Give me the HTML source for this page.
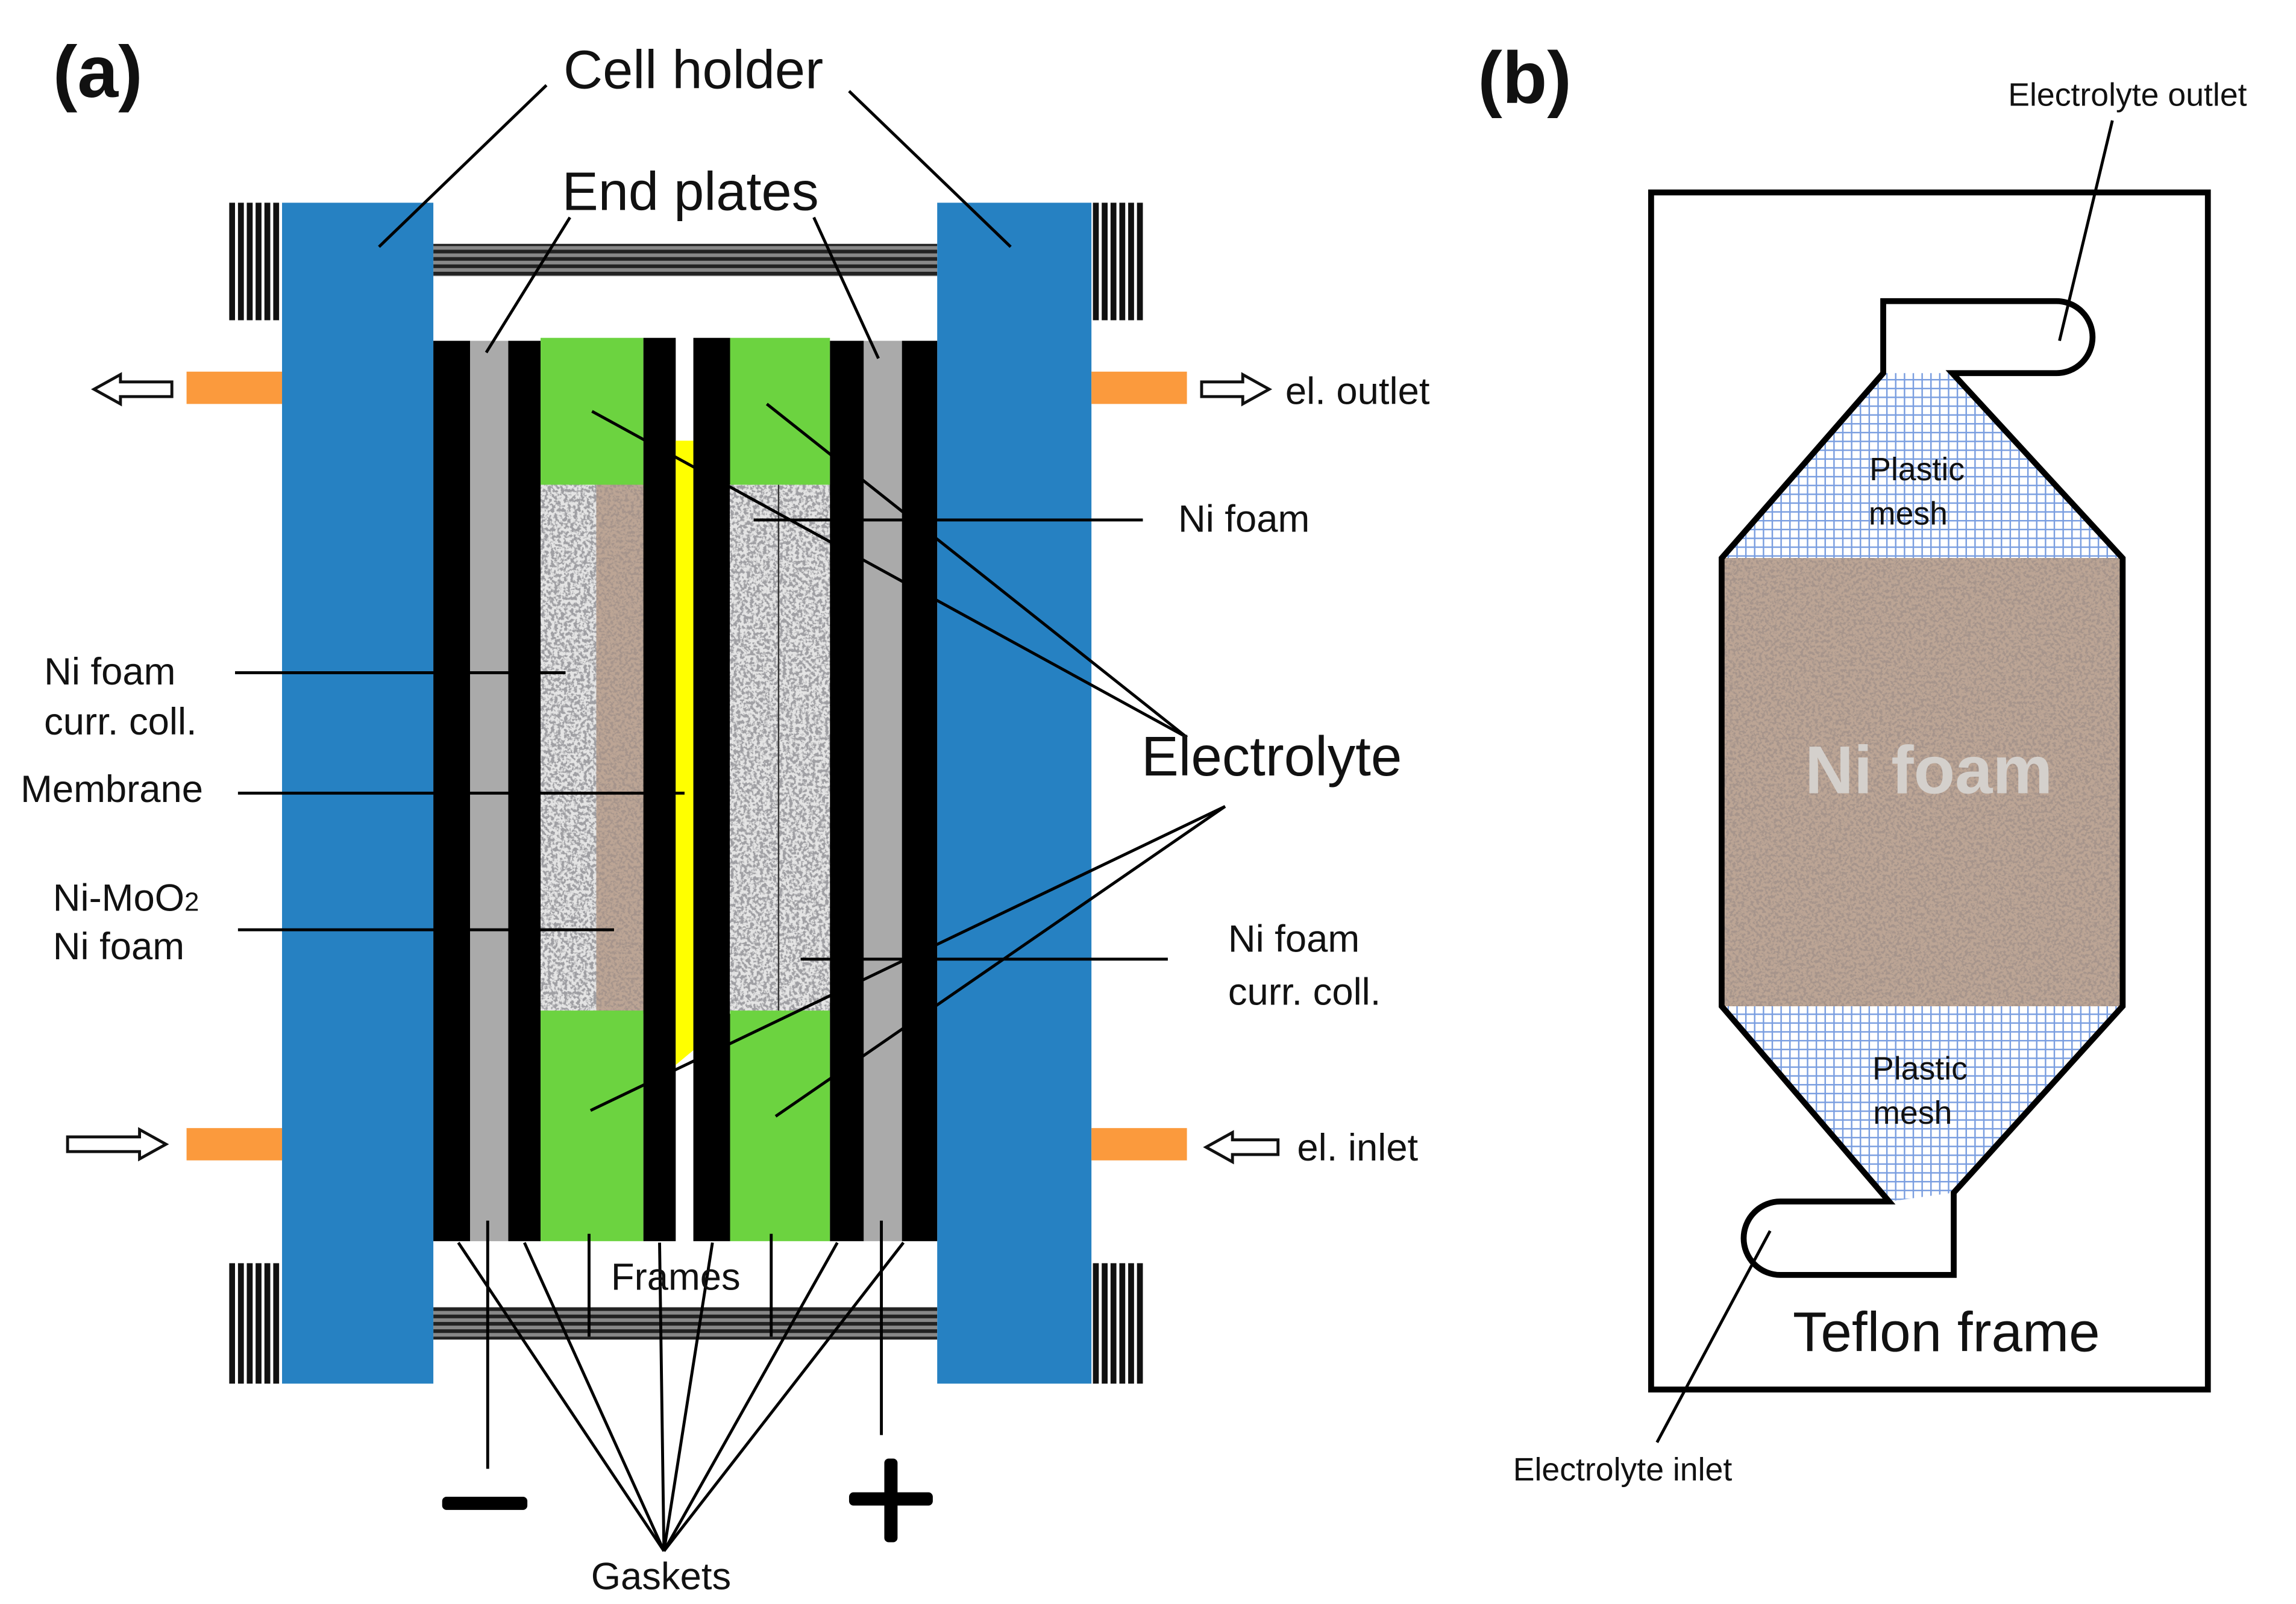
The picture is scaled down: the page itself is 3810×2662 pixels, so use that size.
<!DOCTYPE html>
<html><head><meta charset="utf-8"><style>
html,body{margin:0;padding:0;background:#fff;}
svg{display:block;}
text{font-family:"Liberation Sans",Arial,sans-serif;fill:#111;}
</style></head><body>
<svg width="3810" height="2662" viewBox="0 0 1563 1092" xmlns="http://www.w3.org/2000/svg">
<defs>
<filter id="grayfoam" x="0" y="0" width="1" height="1">
<feTurbulence type="fractalNoise" baseFrequency="0.45" numOctaves="3" seed="3" result="n"/>
<feColorMatrix in="n" type="matrix" values="0 0 0 0 0.35  0 0 0 0 0.35  0 0 0 0 0.37  7 0 0 0 -3.1" result="c"/>
<feFlood flood-color="#e4e4e4" result="bg"/>
<feComposite in="c" in2="bg" operator="over"/>
</filter>
<filter id="brownfoam" x="0" y="0" width="1" height="1">
<feTurbulence type="fractalNoise" baseFrequency="0.5" numOctaves="3" seed="7" result="n"/>
<feColorMatrix in="n" type="matrix" values="0 0 0 0 0.38  0 0 0 0 0.30  0 0 0 0 0.26  6 0 0 0 -2.7" result="c"/>
<feFlood flood-color="#bca595" result="bg"/>
<feComposite in="c" in2="bg" operator="over"/>
</filter>
<pattern id="mesh" width="6" height="6" patternUnits="userSpaceOnUse">
<rect width="6" height="6" fill="#fff"/>
<path d="M0 0.5H6M0.5 0V6" stroke="#7a9ee0" stroke-width="1"/>
</pattern>
<pattern id="vstripe" width="6" height="10" patternUnits="userSpaceOnUse">
<rect width="6" height="10" fill="#fff"/><rect width="4" height="10" fill="#111"/>
</pattern>
<pattern id="hstripe" width="10" height="5" patternUnits="userSpaceOnUse">
<rect width="10" height="5" fill="#888"/><rect width="10" height="2.5" fill="#222"/>
</pattern>
</defs>

<!-- (a) -->
<text x="36" y="66" font-size="50" font-weight="bold">(a)</text>
<text x="472" y="60" font-size="37" text-anchor="middle">Cell holder</text>
<text x="470" y="143" font-size="37" text-anchor="middle">End plates</text>

<rect x="156" y="138" width="36" height="80" fill="url(#vstripe)"/>
<rect x="156" y="860" width="36" height="82" fill="url(#vstripe)"/>
<rect x="743" y="138" width="36" height="80" fill="url(#vstripe)"/>
<rect x="743" y="860" width="36" height="82" fill="url(#vstripe)"/>
<rect x="295" y="166" width="343" height="22" fill="url(#hstripe)"/>
<rect x="295" y="890" width="343" height="22" fill="url(#hstripe)"/>
<rect x="192" y="138" width="103" height="804" fill="#2681c2"/>
<rect x="638" y="138" width="105" height="804" fill="#2681c2"/>
<rect x="127" y="253" width="65" height="22" fill="#fb9a3d"/>
<rect x="127" y="768" width="65" height="22" fill="#fb9a3d"/>
<rect x="743" y="253" width="65" height="22" fill="#fb9a3d"/>
<rect x="743" y="768" width="65" height="22" fill="#fb9a3d"/>
<g fill="#fff" stroke="#111" stroke-width="2">
<path d="M64 265 L82 255 L82 260 L117 260 L117 270 L82 270 L82 275 Z"/>
<path d="M113 779 L95 769 L95 774 L46 774 L46 784 L95 784 L95 789 Z"/>
<path d="M864 265 L846 255 L846 260 L818 260 L818 270 L846 270 L846 275 Z"/>
<path d="M821 781 L839 771 L839 776 L870 776 L870 786 L839 786 L839 791 Z"/>
</g>
<text x="875" y="275" font-size="26">el. outlet</text>
<text x="883" y="790" font-size="26">el. inlet</text>

<rect x="295" y="232" width="25" height="613" fill="#000"/>
<rect x="320" y="232" width="26" height="613" fill="#aaa"/>
<rect x="346" y="232" width="22" height="613" fill="#000"/>
<rect x="368" y="330" width="38" height="360" fill="#eee" filter="url(#grayfoam)"/>
<rect x="406" y="330" width="32" height="360" fill="#c0aa98" filter="url(#brownfoam)"/>
<rect x="368" y="230" width="70" height="100" fill="#6cd340"/>
<rect x="368" y="688" width="70" height="157" fill="#6cd340"/>
<rect x="438" y="230" width="22" height="615" fill="#000"/>
<path d="M460 300 L472 300 L472 715 L460 725 Z" fill="#ffff00"/>
<rect x="472" y="230" width="25" height="615" fill="#000"/>
<rect x="497" y="330" width="68" height="360" fill="#eee" filter="url(#grayfoam)"/>
<line x1="530" y1="330" x2="530" y2="690" stroke="#333" stroke-width="1"/>
<rect x="497" y="230" width="68" height="100" fill="#6cd340"/>
<rect x="497" y="688" width="68" height="157" fill="#6cd340"/>
<rect x="565" y="232" width="23" height="613" fill="#000"/>
<rect x="588" y="232" width="26" height="613" fill="#aaa"/>
<rect x="614" y="232" width="24" height="613" fill="#000"/>

<g stroke="#000" stroke-width="2" fill="none">
<line x1="372" y1="58" x2="258" y2="168"/>
<line x1="578" y1="62" x2="688" y2="168"/>
<line x1="388" y1="148" x2="331" y2="240"/>
<line x1="554" y1="148" x2="598" y2="244"/>
<line x1="160" y1="458" x2="385" y2="458"/>
<line x1="162" y1="540" x2="466" y2="540"/>
<line x1="162" y1="633" x2="418" y2="633"/>
<line x1="513" y1="354" x2="778" y2="354"/>
<line x1="545" y1="653" x2="795" y2="653"/>
<line x1="808" y1="502" x2="403" y2="280"/>
<line x1="808" y1="502" x2="522" y2="275"/>
<line x1="834" y1="549" x2="402" y2="756"/>
<line x1="834" y1="549" x2="528" y2="760"/>
<line x1="452" y1="1056" x2="312" y2="846"/>
<line x1="452" y1="1056" x2="357" y2="846"/>
<line x1="452" y1="1056" x2="449" y2="846"/>
<line x1="452" y1="1056" x2="485" y2="846"/>
<line x1="452" y1="1056" x2="570" y2="846"/>
<line x1="452" y1="1056" x2="615" y2="846"/>
<line x1="332" y1="831" x2="332" y2="1000"/>
<line x1="600" y1="831" x2="600" y2="977"/>
<line x1="401" y1="840" x2="401" y2="910"/>
<line x1="525" y1="840" x2="525" y2="910"/>
</g>
<rect x="301" y="1019" width="58" height="9" fill="#000" rx="3"/>
<rect x="578" y="1016" width="57" height="9" fill="#000" rx="3"/>
<rect x="602" y="993" width="9" height="57" fill="#000" rx="3"/>

<text x="30" y="466" font-size="26">Ni foam</text>
<text x="30" y="500" font-size="26">curr. coll.</text>
<text x="14" y="546" font-size="26">Membrane</text>
<text x="36" y="620" font-size="26">Ni-MoO<tspan font-size="18">2</tspan></text>
<text x="36" y="653" font-size="26">Ni foam</text>
<text x="802" y="362" font-size="26">Ni foam</text>
<text x="777" y="528" font-size="38">Electrolyte</text>
<text x="836" y="648" font-size="26">Ni foam</text>
<text x="836" y="684" font-size="26">curr. coll.</text>
<text x="460" y="878" font-size="26" text-anchor="middle">Frames</text>
<text x="450" y="1082" font-size="26" text-anchor="middle">Gaskets</text>

<!-- (b) -->
<text x="1006" y="70" font-size="50" font-weight="bold">(b)</text>
<rect x="1124" y="131" width="379" height="815" fill="none" stroke="#000" stroke-width="4"/>
<path d="M1282 254 L1329 254 L1445 380 L1172 380 Z" fill="url(#mesh)"/>
<path d="M1172 685 L1445 685 L1330 812 L1286 818 Z" fill="url(#mesh)"/>
<rect x="1172" y="380" width="273" height="305" fill="#c0aa98" filter="url(#brownfoam)"/>
<path d="M1282 254 L1282 205 L1400 205 A24.5 24.5 0 0 1 1400 254 L1329 254 L1445 380 L1445 685 L1330 812 L1330 868 L1212 868 A25 25 0 0 1 1212 818 L1286 818 L1172 685 L1172 380 Z" fill="none" stroke="#000" stroke-width="4"/>
<g stroke="#000" stroke-width="2">
<line x1="1438" y1="82" x2="1402" y2="232"/>
<line x1="1128" y1="982" x2="1205" y2="838"/>
</g>
<text x="1367" y="72" font-size="22">Electrolyte outlet</text>
<text x="1030" y="1008" font-size="22">Electrolyte inlet</text>
<text x="1305" y="327" font-size="22" text-anchor="middle">Plastic</text>
<text x="1299" y="357" font-size="22" text-anchor="middle">mesh</text>
<text x="1307" y="735" font-size="22" text-anchor="middle">Plastic</text>
<text x="1302" y="765" font-size="22" text-anchor="middle">mesh</text>
<text x="1313" y="540" font-size="46" font-weight="bold" text-anchor="middle" style="fill:#d4d0cc">Ni foam</text>
<text x="1325" y="920" font-size="38" text-anchor="middle">Teflon frame</text>
</svg>
</body></html>
